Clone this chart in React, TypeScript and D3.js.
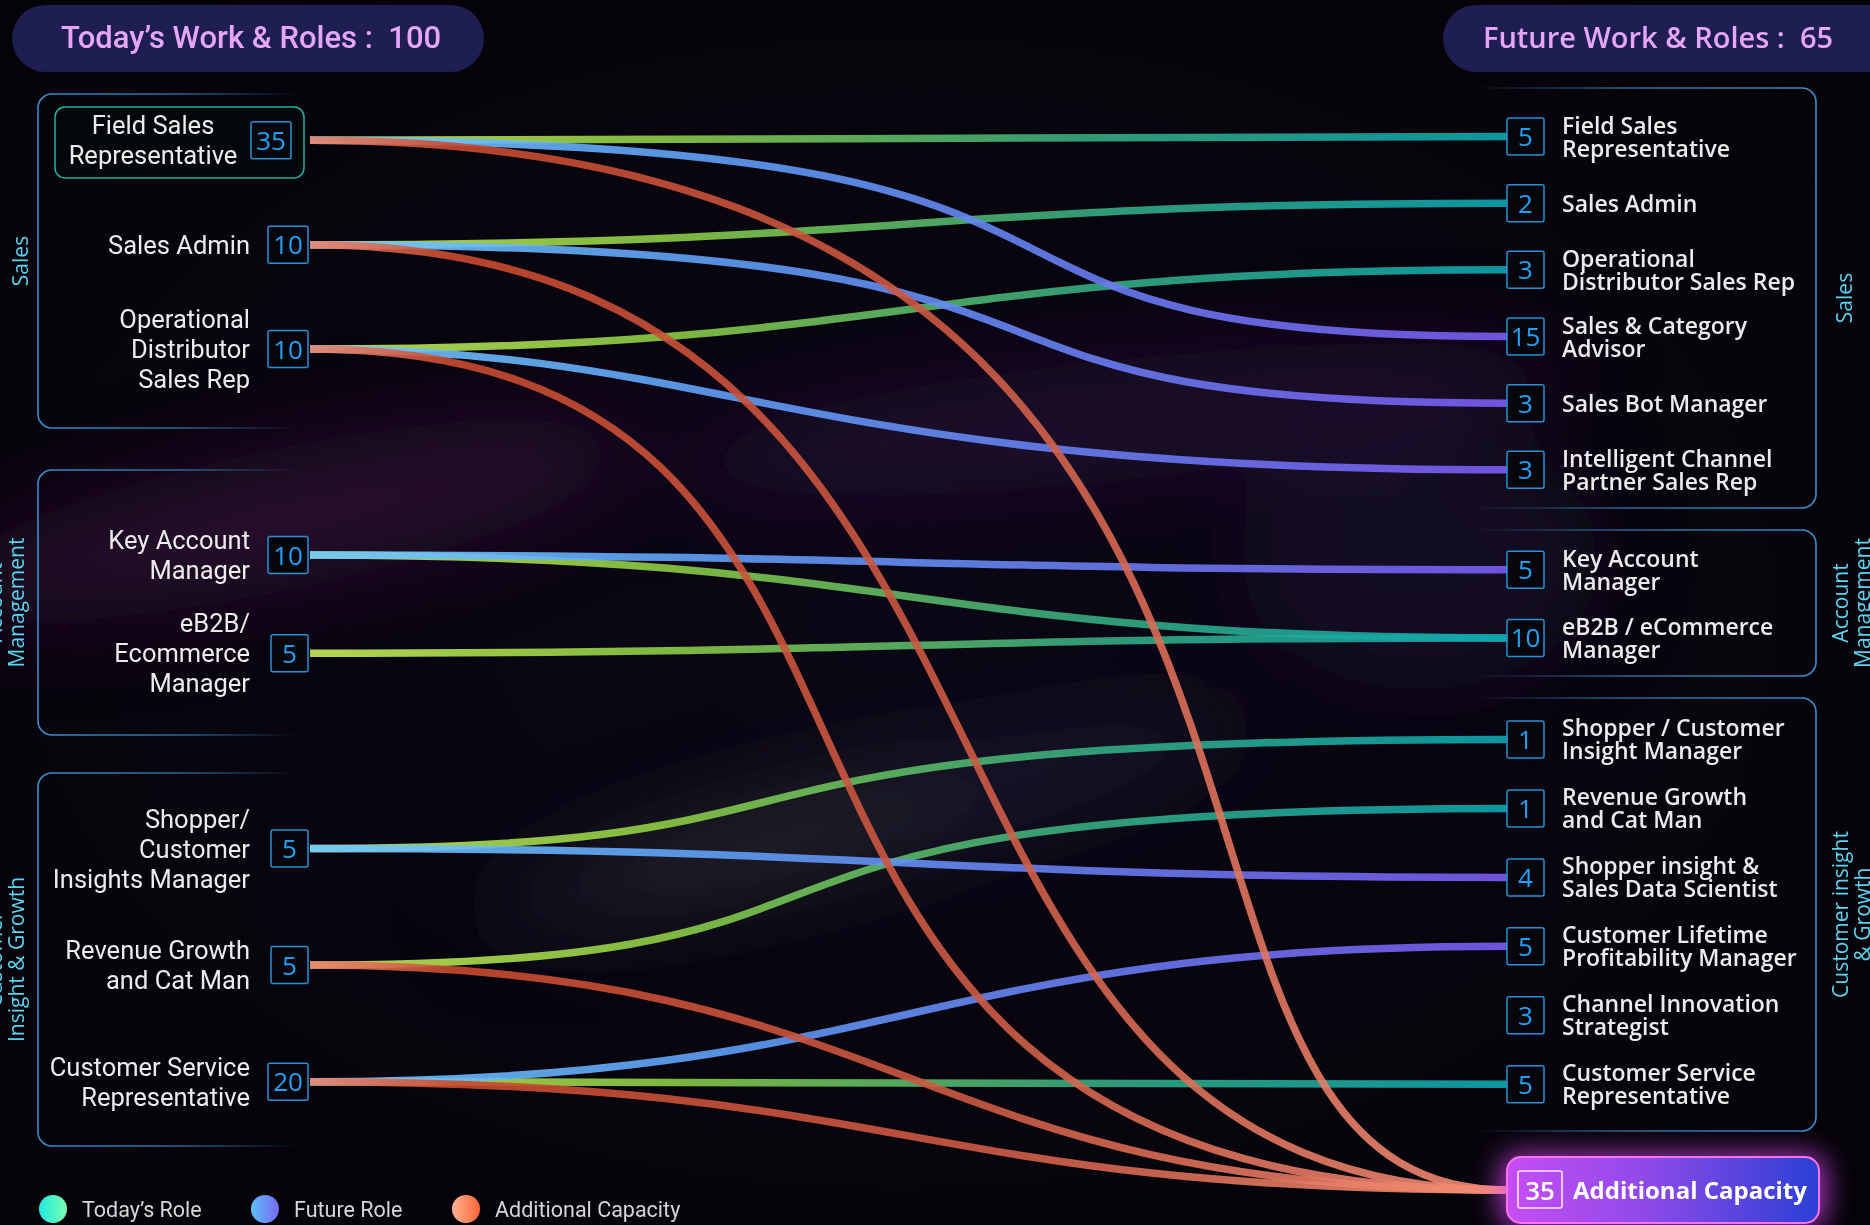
import React, { useEffect, useRef } from 'react';
import * as d3 from 'd3';

// ---- data ----
const todayTotal = 100;
const futureTotal = 65;

const leftGroupLabels = [['Sales'], ['Account', 'Management'], ['Customer', 'Insight & Growth']];
const rightGroupLabels = [['Sales'], ['Account', 'Management'], ['Customer insight', '& Growth']];

const todayRoles = [
  { id: 'fsr', lines: ['Field Sales', 'Representative'], group: 0, count: 35 },
  { id: 'sa', lines: ['Sales Admin'], group: 0, count: 10 },
  { id: 'ods', lines: ['Operational', 'Distributor', 'Sales Rep'], group: 0, count: 10 },
  { id: 'kam', lines: ['Key Account', 'Manager'], group: 1, count: 10 },
  { id: 'eb2b', lines: ['eB2B/', 'Ecommerce', 'Manager'], group: 1, count: 5 },
  { id: 'scim', lines: ['Shopper/', 'Customer', 'Insights Manager'], group: 2, count: 5 },
  { id: 'rgcm', lines: ['Revenue Growth', 'and Cat Man'], group: 2, count: 5 },
  { id: 'csr', lines: ['Customer Service', 'Representative'], group: 2, count: 20 },
];

const futureRoles = [
  { id: 'fsr', lines: ['Field Sales', 'Representative'], group: 0, count: 5 },
  { id: 'sa', lines: ['Sales Admin'], group: 0, count: 2 },
  { id: 'ods', lines: ['Operational', 'Distributor Sales Rep'], group: 0, count: 3 },
  { id: 'sca', lines: ['Sales & Category', 'Advisor'], group: 0, count: 15 },
  { id: 'sbm', lines: ['Sales Bot Manager'], group: 0, count: 3 },
  { id: 'icp', lines: ['Intelligent Channel', 'Partner Sales Rep'], group: 0, count: 3 },
  { id: 'kam', lines: ['Key Account', 'Manager'], group: 1, count: 5 },
  { id: 'eb2b', lines: ['eB2B / eCommerce', 'Manager'], group: 1, count: 10 },
  { id: 'scim', lines: ['Shopper / Customer', 'Insight Manager'], group: 2, count: 1 },
  { id: 'rgcm', lines: ['Revenue Growth', 'and Cat Man'], group: 2, count: 1 },
  { id: 'sisd', lines: ['Shopper insight &', 'Sales Data Scientist'], group: 2, count: 4 },
  { id: 'clpm', lines: ['Customer Lifetime', 'Profitability Manager'], group: 2, count: 5 },
  { id: 'cis', lines: ['Channel Innovation', 'Strategist'], group: 2, count: 3 },
  { id: 'csr', lines: ['Customer Service', 'Representative'], group: 2, count: 5 },
];

const extraCapacity = { id: 'ac', label: 'Additional Capacity', count: 35 };

// [from today, to future, kind]
const flows: [string, string, string][] = [
  ['fsr', 'fsr', 'today'], ['fsr', 'sca', 'future'], ['fsr', 'ac', 'extra'],
  ['sa', 'sa', 'today'], ['sa', 'sbm', 'future'], ['sa', 'ac', 'extra'],
  ['ods', 'ods', 'today'], ['ods', 'icp', 'future'], ['ods', 'ac', 'extra'],
  ['kam', 'kam', 'future'], ['kam', 'eb2b', 'today'],
  ['eb2b', 'eb2b', 'today'],
  ['scim', 'scim', 'today'], ['scim', 'sisd', 'future'],
  ['rgcm', 'rgcm', 'today'], ['rgcm', 'ac', 'extra'],
  ['csr', 'clpm', 'future'], ['csr', 'csr', 'today'], ['csr', 'ac', 'extra'],
];

const legendItems = [
  ['today', 'Today’s Role'],
  ['future', 'Future Role'],
  ['extra', 'Additional Capacity'],
];

// ---- layout / style ----
const W = 1870;
const H = 1225;
const highlighted = 'fsr';

const leftBoxes = [
  { y0: 94, y1: 428, pad: 0.6, align: 0.37 },
  { y0: 470, y1: 735, pad: 0.85, align: 0.51 },
  { y0: 773, y1: 1146, pad: 0.6, align: 0.54 },
];
const rightBoxes = [
  { y0: 88, y1: 508, pad: 0.65, align: 0.56 },
  { y0: 530, y1: 676, pad: 0.57, align: 0.51 },
  { y0: 698, y1: 1131, pad: 0.64, align: 0.47 },
];
const acY = 1190;

// control point positions (fraction of the horizontal span) for hand-shaped links
const bend: Record<string, [number, number]> = {
  'fsr>ac': [0.95, 0.63],
  'sa>ac': [0.66, 0.44],
  'ods>ac': [0.6, 0.25],
  'fsr>sca': [0.78, 0.45],
  'sa>sbm': [0.75, 0.45],
  'ods>icp': [0.35, 0.4],
  'scim>scim': [0.5, 0.25],
  'rgcm>rgcm': [0.55, 0.25],
};

const gradients: Record<string, [number, string][]> = {
  today: [[0, '#c8ec58'], [0.3, '#8ccb45'], [0.65, '#36ab80'], [1, '#0ea6b0']],
  future: [[0, '#70caff'], [0.35, '#5f9ef6'], [0.7, '#6a78f0'], [1, '#7a5cf2']],
  extra: [[0, '#ea8670'], [0.12, '#c84a30'], [0.55, '#cc5a44'], [1, '#f48e76']],
};
const legendGrad: Record<string, [string, string]> = {
  today: ['#1de8e0', '#7dffb0'],
  future: ['#5cc0ff', '#7a66ee'],
  extra: ['#ffb295', '#ff6533'],
};

const App: React.FC = () => {
  const svgRef = useRef<SVGSVGElement>(null);

  useEffect(() => {
    if (!svgRef.current) return;
    document.body.style.margin = '0';
    document.body.style.overflow = 'hidden';

    const svg = d3.select(svgRef.current);
    svg.selectAll('*').remove();
    const defs = svg.append('defs');

    // background
    const bg = defs.append('radialGradient').attr('id', 'bg')
      .attr('cx', '48%').attr('cy', '50%').attr('r', '70%');
    bg.append('stop').attr('offset', '0%').attr('stop-color', '#0c0716');
    bg.append('stop').attr('offset', '100%').attr('stop-color', '#040307');
    svg.append('rect').attr('width', W).attr('height', H).attr('fill', 'url(#bg)');

    const blur = defs.append('filter').attr('id', 'neb')
      .attr('x', '-50%').attr('y', '-50%').attr('width', '200%').attr('height', '200%');
    blur.append('feGaussianBlur').attr('stdDeviation', 45);

    const neb = svg.append('g').attr('filter', 'url(#neb)');
    const blobs = [
      { cx: 280, cy: 520, rx: 360, ry: 70, c: '#521658', o: 0.4, r: -12 },
      { cx: 1120, cy: 420, rx: 460, ry: 60, c: '#42185a', o: 0.38, r: -6 },
      { cx: 860, cy: 820, rx: 400, ry: 50, c: '#302c55', o: 0.4, r: -14 },
      { cx: 760, cy: 845, rx: 200, ry: 24, c: '#55652a', o: 0.28, r: -14 },
      { cx: 1420, cy: 560, rx: 180, ry: 130, c: '#2d1a4a', o: 0.35, r: 0 },
    ];
    blobs.forEach(b => {
      neb.append('ellipse')
        .attr('transform', `translate(${b.cx},${b.cy}) rotate(${b.r})`)
        .attr('rx', b.rx).attr('ry', b.ry)
        .attr('fill', b.c).attr('opacity', b.o);
    });

    // node positions
    const leftY = new Map<string, number>();
    leftBoxes.forEach((b, gi) => {
      const ids = todayRoles.filter(r => r.group === gi).map(r => r.id);
      const s = d3.scalePoint<string>().domain(ids).range([b.y0, b.y1]).padding(b.pad).align(b.align);
      ids.forEach(id => leftY.set(id, s(id)!));
    });
    const rightY = new Map<string, number>();
    rightBoxes.forEach((b, gi) => {
      const ids = futureRoles.filter(r => r.group === gi).map(r => r.id);
      const s = d3.scalePoint<string>().domain(ids).range([b.y0, b.y1]).padding(b.pad).align(b.align);
      ids.forEach(id => rightY.set(id, s(id)!));
    });
    rightY.set(extraCapacity.id, acY);

    const x = d3.scaleLinear().domain([0, 1]).range([310, 1507]);

    // header pills
    const pill = (x0: number, w: number, cx: number, text: string, font: string, size: number, weight: number) => {
      svg.append('rect').attr('x', x0).attr('y', 5).attr('width', w).attr('height', 67)
        .attr('rx', 33.5).attr('fill', '#1e1e52');
      svg.append('text').attr('x', cx).attr('y', 48).attr('text-anchor', 'middle')
        .attr('font-family', font).attr('font-size', size).attr('font-weight', weight)
        .attr('fill', '#e6a6f6').style('white-space', 'pre').text(text);
    };
    pill(12, 472, 251, `Today’s Work & Roles :  ${todayTotal}`, 'Roboto', 31, 500);
    pill(1443, 460, 1658, `Future Work & Roles :  ${futureTotal}`, 'Open Sans', 29, 600);

    // group boxes with fading borders
    const lb = defs.append('linearGradient').attr('id', 'lborder')
      .attr('gradientUnits', 'userSpaceOnUse').attr('x1', 38).attr('x2', 300).attr('y1', 0).attr('y2', 0);
    lb.append('stop').attr('offset', 0).attr('stop-color', '#3a8fd0').attr('stop-opacity', 1);
    lb.append('stop').attr('offset', 0.55).attr('stop-color', '#3a8fd0').attr('stop-opacity', 0.7);
    lb.append('stop').attr('offset', 1).attr('stop-color', '#3a8fd0').attr('stop-opacity', 0);
    const rb = defs.append('linearGradient').attr('id', 'rborder')
      .attr('gradientUnits', 'userSpaceOnUse').attr('x1', 1470).attr('x2', 1816).attr('y1', 0).attr('y2', 0);
    rb.append('stop').attr('offset', 0).attr('stop-color', '#3a8fd0').attr('stop-opacity', 0);
    rb.append('stop').attr('offset', 0.45).attr('stop-color', '#3a8fd0').attr('stop-opacity', 0.7);
    rb.append('stop').attr('offset', 1).attr('stop-color', '#3a8fd0').attr('stop-opacity', 1);

    const r = 14;
    leftBoxes.forEach(b => {
      const p = d3.path();
      p.moveTo(300, b.y0); p.lineTo(38 + r, b.y0);
      p.arcTo(38, b.y0, 38, b.y0 + r, r);
      p.lineTo(38, b.y1 - r);
      p.arcTo(38, b.y1, 38 + r, b.y1, r);
      p.lineTo(300, b.y1);
      svg.append('path').attr('d', p.toString()).attr('fill', 'none')
        .attr('stroke', 'url(#lborder)').attr('stroke-width', 1.6);
    });
    rightBoxes.forEach(b => {
      const p = d3.path();
      p.moveTo(1470, b.y0); p.lineTo(1816 - r, b.y0);
      p.arcTo(1816, b.y0, 1816, b.y0 + r, r);
      p.lineTo(1816, b.y1 - r);
      p.arcTo(1816, b.y1, 1816 - r, b.y1, r);
      p.lineTo(1470, b.y1);
      svg.append('path').attr('d', p.toString()).attr('fill', 'none')
        .attr('stroke', 'url(#rborder)').attr('stroke-width', 1.6);
    });

    // group labels (rotated)
    const groupLabel = (lines: string[], bx: number, cy: number) => {
      const t = svg.append('text').attr('transform', `translate(${bx},${cy}) rotate(-90)`)
        .attr('text-anchor', 'middle').attr('font-family', 'Open Sans').attr('font-size', 21)
        .attr('font-weight', 500).attr('fill', '#5cd3f0');
      lines.forEach((l, i) => t.append('tspan').attr('x', 0).attr('y', i * 22).text(l));
    };
    leftGroupLabels.forEach((lines, i) => {
      const b = leftBoxes[i];
      groupLabel(lines, lines.length > 1 ? 2 : 28, (b.y0 + b.y1) / 2);
    });
    rightGroupLabels.forEach((lines, i) => {
      const b = rightBoxes[i];
      groupLabel(lines, lines.length > 1 ? 1848 : 1852, (b.y0 + b.y1) / 2);
    });

    // highlight box
    svg.append('rect').attr('x', 55).attr('y', 107).attr('width', 249).attr('height', 71)
      .attr('rx', 10).attr('fill', '#02070a').attr('stroke', '#1db3a6').attr('stroke-width', 1.5);

    // links
    Object.entries(gradients).forEach(([k, stops]) => {
      const g = defs.append('linearGradient').attr('id', `lg-${k}`)
        .attr('gradientUnits', 'userSpaceOnUse')
        .attr('x1', x(0)).attr('x2', x(1)).attr('y1', 0).attr('y2', 0);
      stops.forEach(([o, c]) => g.append('stop').attr('offset', o).attr('stop-color', c));
    });

    const linkPath = (s: string, t: string) => {
      const [a, b] = bend[`${s}>${t}`] || [0.5, 0.5];
      const y0 = leftY.get(s)!;
      const y1 = rightY.get(t)!;
      const p = d3.path();
      p.moveTo(x(0), y0);
      p.bezierCurveTo(x(a), y0, x(b), y1, x(1), y1);
      return p.toString();
    };

    const order = ['today', 'future', 'extra'];
    svg.append('g').selectAll('path')
      .data(flows.slice().sort((p, q) => order.indexOf(p[2]) - order.indexOf(q[2])))
      .join('path')
      .attr('d', d => linkPath(d[0], d[1]))
      .attr('fill', 'none')
      .attr('stroke', d => `url(#lg-${d[2]})`)
      .attr('stroke-width', 7.5)
      .attr('opacity', 0.9);

    // left nodes
    todayRoles.forEach(role => {
      const y = leftY.get(role.id)!;
      const hi = role.id === highlighted;
      const n = role.lines.length;
      const t = svg.append('text')
        .attr('text-anchor', hi ? 'middle' : 'end')
        .attr('font-family', 'Roboto').attr('font-size', 25.5).attr('fill', '#ececec');
      role.lines.forEach((l, i) => t.append('tspan')
        .attr('x', hi ? 153 : 250)
        .attr('y', y - (n - 1) * 15 + 9 + i * 30).text(l));
      const bw = role.count >= 10 ? 40 : 37;
      const right = hi ? 291 : 308;
      svg.append('rect').attr('x', right - bw).attr('y', y - 18.5).attr('width', bw).attr('height', 37)
        .attr('rx', 2).attr('fill', '#04060c').attr('stroke', '#2a8fd6').attr('stroke-width', 1.5);
      svg.append('text').attr('x', right - bw / 2).attr('y', y + 9.5).attr('text-anchor', 'middle')
        .attr('font-family', 'Open Sans').attr('font-size', 26).attr('font-weight', 500)
        .attr('fill', '#1fa2f4').text(role.count);
    });

    // right nodes
    futureRoles.forEach(role => {
      const y = rightY.get(role.id)!;
      const n = role.lines.length;
      svg.append('rect').attr('x', 1507).attr('y', y - 18.5).attr('width', 37).attr('height', 37)
        .attr('rx', 2).attr('fill', '#04060c').attr('stroke', '#2a8fd6').attr('stroke-width', 1.5);
      svg.append('text').attr('x', 1525.5).attr('y', y + 9.5).attr('text-anchor', 'middle')
        .attr('font-family', 'Open Sans').attr('font-size', 26).attr('font-weight', 500)
        .attr('fill', '#1fa2f4').text(role.count);
      const t = svg.append('text')
        .attr('font-family', 'Open Sans').attr('font-size', 23).attr('font-weight', 600)
        .attr('fill', '#ebebeb');
      role.lines.forEach((l, i) => t.append('tspan')
        .attr('x', 1562).attr('y', y - (n - 1) * 11.5 + 8.5 + i * 23).text(l));
    });

    // additional capacity node
    const glow = defs.append('filter').attr('id', 'glow')
      .attr('x', '-30%').attr('y', '-80%').attr('width', '160%').attr('height', '260%');
    glow.append('feGaussianBlur').attr('stdDeviation', 14);
    const acg = defs.append('linearGradient').attr('id', 'acfill').attr('x1', 0).attr('x2', 1).attr('y1', 0).attr('y2', 0);
    acg.append('stop').attr('offset', 0).attr('stop-color', '#c54ef4');
    acg.append('stop').attr('offset', 0.45).attr('stop-color', '#8d4ae9');
    acg.append('stop').attr('offset', 1).attr('stop-color', '#2a3fd4');
    svg.append('rect').attr('x', 1500).attr('y', acY - 36).attr('width', 326).attr('height', 74)
      .attr('rx', 18).attr('fill', '#e04cff').attr('opacity', 0.75).attr('filter', 'url(#glow)');
    svg.append('rect').attr('x', 1507).attr('y', acY - 33).attr('width', 312).attr('height', 66)
      .attr('rx', 14).attr('fill', 'url(#acfill)').attr('stroke', '#ff72ec').attr('stroke-width', 2);
    svg.append('rect').attr('x', 1518).attr('y', acY - 19).attr('width', 44).attr('height', 37)
      .attr('rx', 2).attr('fill', 'none').attr('stroke', '#f6e8ff').attr('stroke-width', 1.6);
    svg.append('text').attr('x', 1540).attr('y', acY + 9.5).attr('text-anchor', 'middle')
      .attr('font-family', 'Open Sans').attr('font-size', 26).attr('font-weight', 600)
      .attr('fill', '#ffffff').text(extraCapacity.count);
    svg.append('text').attr('x', 1573).attr('y', acY + 9)
      .attr('font-family', 'Open Sans').attr('font-size', 24).attr('font-weight', 700)
      .attr('fill', '#ffffff').text(extraCapacity.label);

    // legend
    const lx = [53, 265, 466];
    legendItems.forEach(([k, label], i) => {
      const g = defs.append('linearGradient').attr('id', `leg-${k}`).attr('x1', 0).attr('x2', 1).attr('y1', 0).attr('y2', 0);
      g.append('stop').attr('offset', 0).attr('stop-color', legendGrad[k][0]);
      g.append('stop').attr('offset', 1).attr('stop-color', legendGrad[k][1]);
      svg.append('circle').attr('cx', lx[i]).attr('cy', 1209).attr('r', 14).attr('fill', `url(#leg-${k})`);
      svg.append('text').attr('x', lx[i] + 29).attr('y', 1217)
        .attr('font-family', 'Roboto').attr('font-size', 21.5).attr('fill', '#d6d6d6').text(label);
    });
  }, []);

  return (
    <div style={{ position: 'absolute', left: 0, top: 0, width: W, height: H, overflow: 'hidden', background: '#050308' }}>
      <svg ref={svgRef} width={W} height={H} style={{ display: 'block' }}></svg>
    </div>
  );
};

export default App;
